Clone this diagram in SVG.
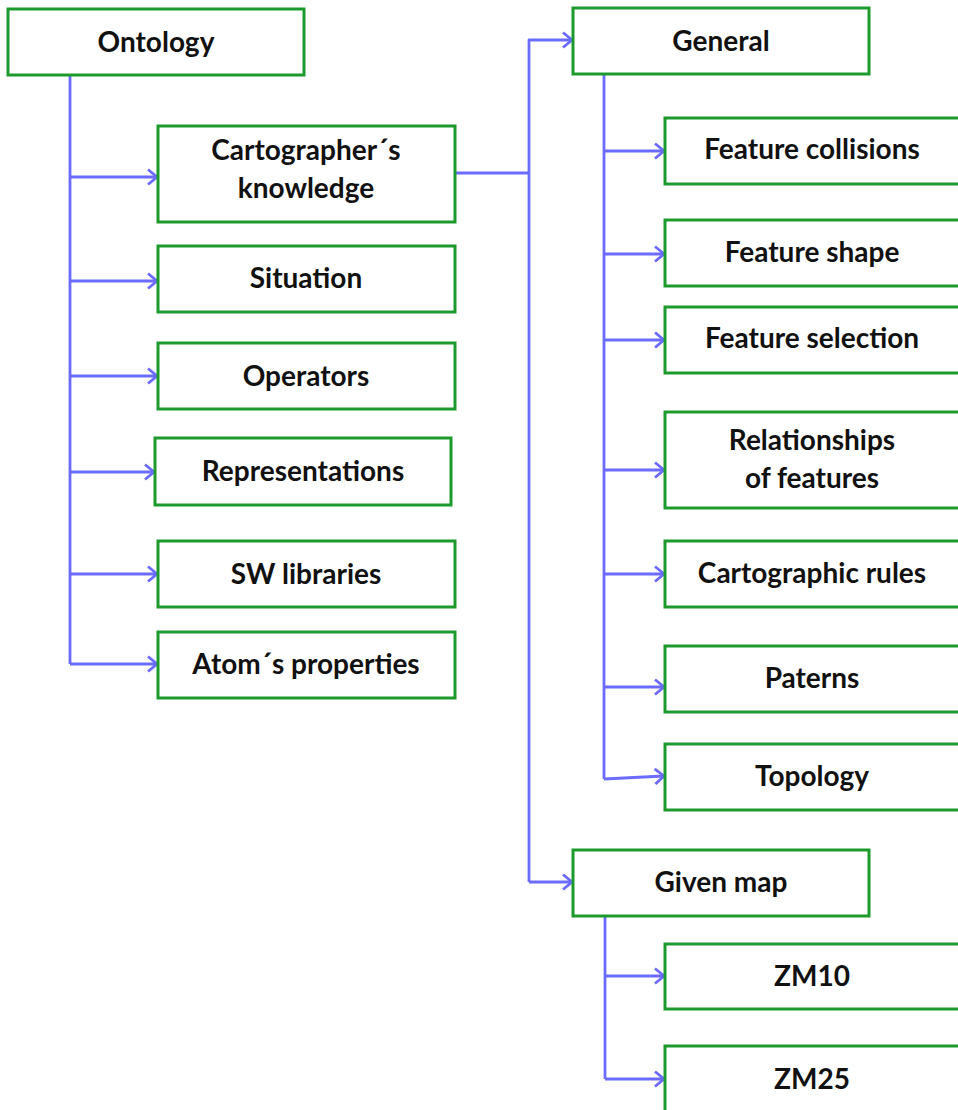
<svg xmlns="http://www.w3.org/2000/svg" width="958" height="1110" viewBox="0 0 958 1110">
<defs>
<style>
.box{fill:#ffffff;stroke:#1c9a2c;stroke-width:3}
.t{font-family:Lato,"Liberation Sans",sans-serif;font-weight:bold;font-size:28px;fill:#111111;text-anchor:middle}
.c{fill:none;stroke:#6b6bff;stroke-width:2.8;stroke-linejoin:round}
</style>
<marker id="ah" markerWidth="16" markerHeight="18" refX="12" refY="9" orient="auto" markerUnits="userSpaceOnUse">
<path d="M3,1.5 L12,9 L3,16.5" fill="none" stroke="#6b6bff" stroke-width="2.8"/>
</marker>
</defs>
<rect width="958" height="1110" fill="#ffffff"/>
<g id="connectors">
<path class="c" d="M70,75 V664"/>
<path class="c" d="M70,177 H157" marker-end="url(#ah)"/>
<path class="c" d="M70,281 H157" marker-end="url(#ah)"/>
<path class="c" d="M70,376 H157" marker-end="url(#ah)"/>
<path class="c" d="M70,472 H154" marker-end="url(#ah)"/>
<path class="c" d="M70,574 H157" marker-end="url(#ah)"/>
<path class="c" d="M70,664 H157" marker-end="url(#ah)"/>
<path class="c" d="M455,173 H529"/>
<path class="c" d="M529,882 V40 H572" marker-end="url(#ah)"/>
<path class="c" d="M529,882 H572" marker-end="url(#ah)"/>
<path class="c" d="M604,74 V779"/>
<path class="c" d="M604,151 H664" marker-end="url(#ah)"/>
<path class="c" d="M604,254 H664" marker-end="url(#ah)"/>
<path class="c" d="M604,340 H664" marker-end="url(#ah)"/>
<path class="c" d="M604,470 H664" marker-end="url(#ah)"/>
<path class="c" d="M604,574 H664" marker-end="url(#ah)"/>
<path class="c" d="M604,687 H664" marker-end="url(#ah)"/>
<path class="c" d="M604,779 L664,776" marker-end="url(#ah)"/>
<path class="c" d="M605,916 V1079"/>
<path class="c" d="M605,976 H664" marker-end="url(#ah)"/>
<path class="c" d="M605,1079 H664" marker-end="url(#ah)"/>
</g>
<g id="ontology"><rect class="box" x="8" y="9" width="296" height="66"/><text class="t" x="156" y="52">Ontology</text></g>
<g id="cartographers-knowledge"><rect class="box" x="158" y="126" width="297" height="96"/><text class="t" x="306" y="160">Cartographer´s</text><text class="t" x="306" y="198">knowledge</text></g>
<g id="situation"><rect class="box" x="158" y="246" width="297" height="66"/><text class="t" x="306" y="288">Situation</text></g>
<g id="operators"><rect class="box" x="158" y="343" width="297" height="66"/><text class="t" x="306" y="386">Operators</text></g>
<g id="representations"><rect class="box" x="155" y="438" width="296" height="67"/><text class="t" x="303" y="481">Representations</text></g>
<g id="sw-libraries"><rect class="box" x="158" y="541" width="297" height="66"/><text class="t" x="306" y="584">SW libraries</text></g>
<g id="atoms-properties"><rect class="box" x="158" y="632" width="297" height="66"/><text class="t" x="306" y="674">Atom´s properties</text></g>
<g id="general"><rect class="box" x="573" y="8" width="296" height="66"/><text class="t" x="721" y="51">General</text></g>
<g id="feature-collisions"><rect class="box" x="665" y="118" width="296" height="66"/><text class="t" x="812" y="159">Feature collisions</text></g>
<g id="feature-shape"><rect class="box" x="665" y="220" width="296" height="66"/><text class="t" x="812" y="262">Feature shape</text></g>
<g id="feature-selection"><rect class="box" x="665" y="307" width="296" height="66"/><text class="t" x="812" y="348">Feature selection</text></g>
<g id="relationships-of-features"><rect class="box" x="665" y="412" width="296" height="96"/><text class="t" x="812" y="450">Relationships</text><text class="t" x="812" y="488">of features</text></g>
<g id="cartographic-rules"><rect class="box" x="665" y="541" width="296" height="66"/><text class="t" x="812" y="583">Cartographic rules</text></g>
<g id="paterns"><rect class="box" x="665" y="646" width="296" height="66"/><text class="t" x="812" y="688">Paterns</text></g>
<g id="topology"><rect class="box" x="665" y="744" width="296" height="66"/><text class="t" x="812" y="786">Topology</text></g>
<g id="given-map"><rect class="box" x="573" y="850" width="296" height="66"/><text class="t" x="721" y="892">Given map</text></g>
<g id="zm10"><rect class="box" x="665" y="944" width="296" height="65"/><text class="t" x="812" y="986">ZM10</text></g>
<g id="zm25"><rect class="box" x="665" y="1046" width="296" height="70"/><text class="t" x="812" y="1089">ZM25</text></g>
</svg>
